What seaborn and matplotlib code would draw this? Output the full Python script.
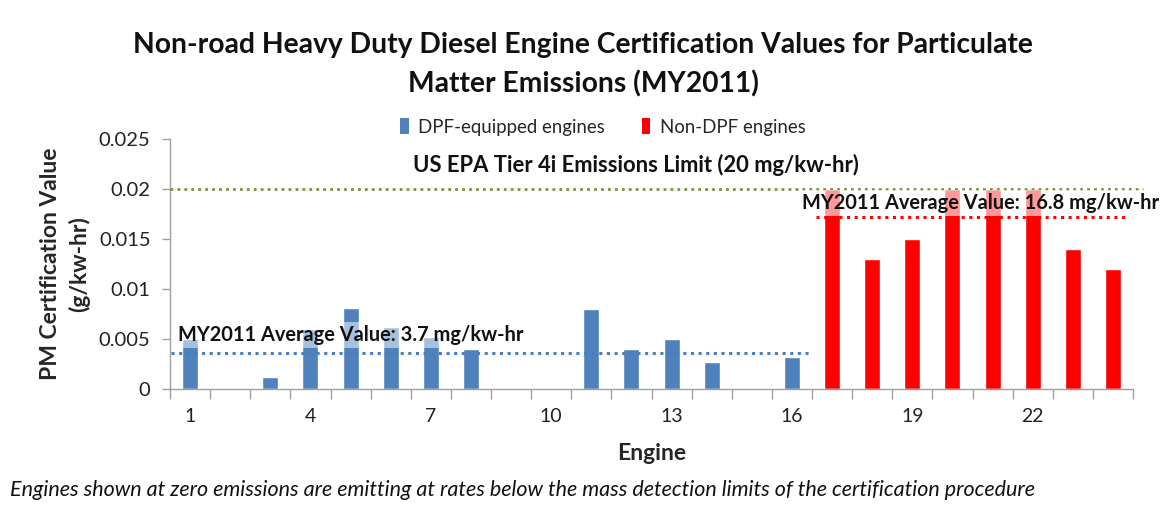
import numpy as np
import pandas as pd
import matplotlib
matplotlib.use("Agg")
import matplotlib.pyplot as plt
from matplotlib.ticker import FixedLocator
from matplotlib.patches import Patch
import seaborn as sns

# ---- data ----
engines = list(range(1, 25))
engine_type = ["DPF-equipped engines"] * 16 + ["Non-DPF engines"] * 8
pm_values = [0.0050, 0.0, 0.0012, 0.0060, 0.0081, 0.0062, 0.0052, 0.0040,
             0.0, 0.0, 0.0080, 0.0040, 0.0050, 0.0027, 0.0, 0.0032,
             0.0200, 0.0130, 0.0150, 0.0200, 0.0200, 0.0200, 0.0140, 0.0120]
tier4i_limit = 0.020
avg_dpf = 0.0036
avg_nondpf = 0.0172
xtick_labels = ["1", "4", "7", "10", "13", "16", "19", "22"]

df = pd.DataFrame({"Engine": engines, "PM": pm_values, "Type": engine_type})

sns.set_theme(style="white")
plt.rcParams["font.family"] = ["Lato", "DejaVu Sans"]

fig = plt.figure(figsize=(11.66, 5.07), dpi=100)
ax = fig.add_axes([170 / 1166, 1 - 389 / 507, (1133 - 170) / 1166, (389 - 139) / 507])

palette = {"DPF-equipped engines": "#4F81BD", "Non-DPF engines": "#FF0000"}
sns.barplot(data=df, x="Engine", y="PM", hue="Type", dodge=False, width=0.4,
            palette=palette, saturation=1, ax=ax, legend=False)

ax.set_xlim(-0.5, 23.5)
ax.set_ylim(0, 0.025)
ax.set_yticks([0, 0.005, 0.01, 0.015, 0.02, 0.025])
ax.set_yticklabels(["0", "0.005", "0.01", "0.015", "0.02", "0.025"])
ax.set_xticks([0, 3, 6, 9, 12, 15, 18, 21])
ax.set_xticklabels(xtick_labels)
ax.xaxis.set_minor_locator(FixedLocator(np.arange(-0.5, 24, 1)))
ax.tick_params(axis="x", which="major", length=0, pad=14, labelsize=14, colors="#222222")
ax.tick_params(axis="x", which="minor", length=7, width=1, color="#A0A0A0", direction="out", bottom=True)
ax.tick_params(axis="y", which="major", length=6, width=1, color="#A0A0A0", direction="out",
               left=True, labelsize=14.5, pad=8, labelcolor="#222222")

for s in ["top", "right"]:
    ax.spines[s].set_visible(False)
for s in ["left", "bottom"]:
    ax.spines[s].set_color("#A0A0A0")
    ax.spines[s].set_linewidth(1)

ax.set_xlabel("Engine", fontsize=16.5, fontweight="bold", labelpad=13)
ax.set_ylabel("PM Certification Value\n(g/kw-hr)", fontsize=16.5, fontweight="bold",
              labelpad=6, linespacing=1.4)

# reference lines
ax.plot([-0.5, 23.75], [tier4i_limit] * 2, color="#77933C", lw=2, ls=(0, (1, 1.5)), clip_on=False, zorder=3)
ax.plot([-0.47, 15.5], [avg_dpf] * 2, color="#4A7EBB", lw=2.2, ls=(0, (1, 1.5)), zorder=3)
ax.plot([15.6, 23.3], [avg_nondpf] * 2, color="#FF0000", lw=2.2, ls=(0, (1, 1.5)), zorder=3)

ax.text(11.1, 0.0224, "US EPA Tier 4i Emissions Limit (20 mg/kw-hr)", ha="center", va="center",
        fontsize=15.8, fontweight="bold", color="#111111")
ax.text(-0.3, 0.0054, "MY2011 Average Value: 3.7 mg/kw-hr", ha="left", va="center",
        fontsize=14.4, fontweight="bold", color="#111111", zorder=4,
        bbox=dict(facecolor="white", edgecolor="none", alpha=0.5, pad=2))
ax.text(15.25, 0.0186, "MY2011 Average Value: 16.8 mg/kw-hr", ha="left", va="center",
        fontsize=14.4, fontweight="bold", color="#111111", zorder=4, clip_on=False,
        bbox=dict(facecolor="white", edgecolor="none", alpha=0.6, pad=2))

# legend
handles = [Patch(facecolor=palette[k], edgecolor="none") for k in palette]
fig.legend(handles, list(palette.keys()), loc="center", bbox_to_anchor=(603 / 1166, 1 - 127 / 507),
           ncol=2, frameon=False, fontsize=13.4, handlelength=0.45, handleheight=0.9,
           handletextpad=0.5, columnspacing=2.0)

fig.text(583 / 1166, 1 - 65 / 507,
         "Non-road Heavy Duty Diesel Engine Certification Values for Particulate\nMatter Emissions (MY2011)",
         ha="center", va="center", fontsize=20.3, fontweight="bold", linespacing=1.55, color="#111111")
fig.text(10 / 1166, 1 - 490 / 507,
         "Engines shown at zero emissions are emitting at rates below the mass detection limits of the certification procedure",
         ha="left", va="center", fontsize=15.5, style="italic", color="#111111")

fig.savefig("out.png", dpi=100)
